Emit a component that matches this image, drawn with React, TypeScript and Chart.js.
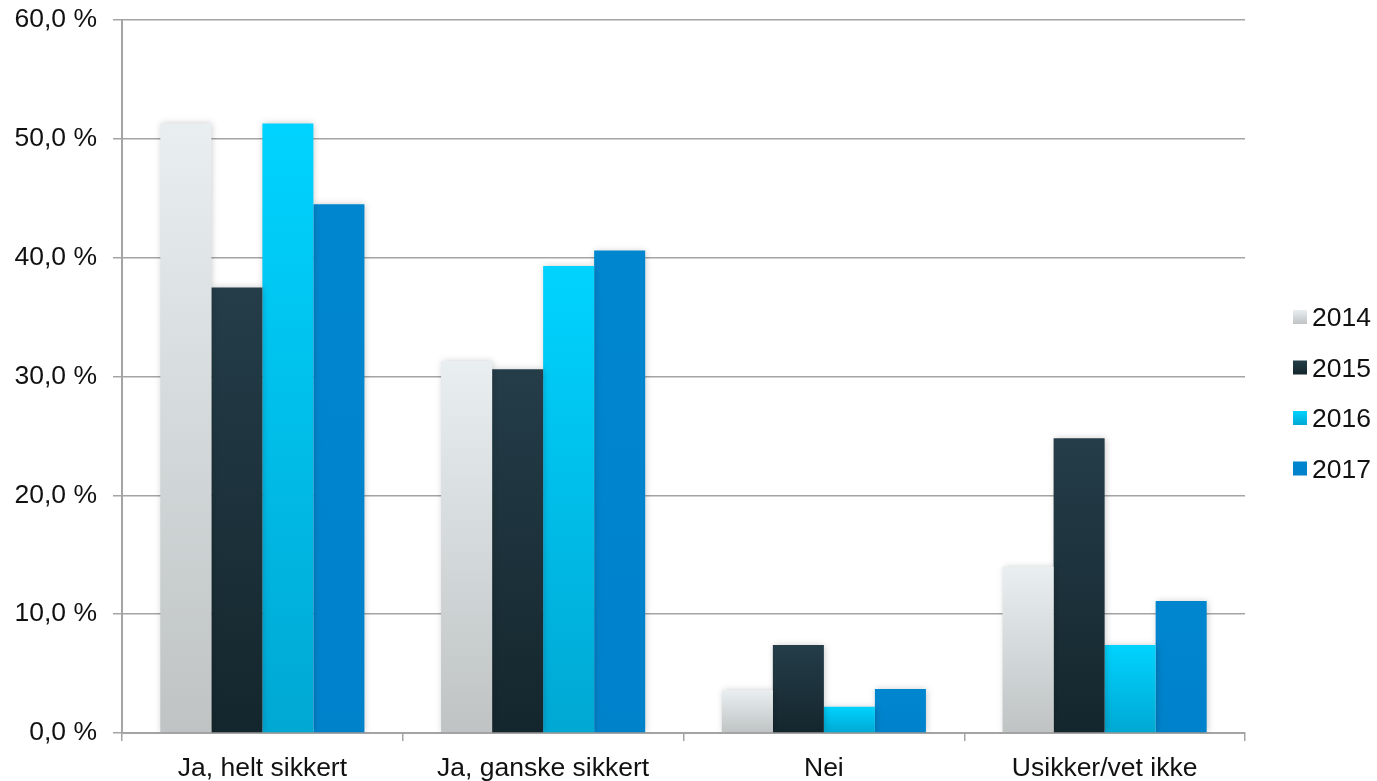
import React, { useEffect, useRef } from "react";
import { Chart, registerables } from "chart.js";

Chart.register(...registerables);

const categories = ["Ja, helt sikkert", "Ja, ganske sikkert", "Nei", "Usikker/vet ikke"];
const seriesLabels = ["2014", "2015", "2016", "2017"];
const values2014 = [51.3, 31.3, 3.6, 14.0];
const values2015 = [37.5, 30.6, 7.4, 24.8];
const values2016 = [51.3, 39.3, 2.2, 7.4];
const values2017 = [44.5, 40.6, 3.7, 11.1];
const yTicks = [0, 10, 20, 30, 40, 50, 60];

const gradients: [string, string][] = [
  ["#e9eef0", "#bfc3c4"],
  ["#243d49", "#14262d"],
  ["#00d3ff", "#00a8d3"],
  ["#0086cf", "#0082cb"],
];

const FONT = "'Liberation Sans', Arial, Helvetica, sans-serif";
const GRID = "#a4a4a4";
const FS = 26.5;

export default function App() {
  const ref = useRef<HTMLCanvasElement | null>(null);

  useEffect(() => {
    if (!ref.current) return;
    const all = [values2014, values2015, values2016, values2017];

    const shadowPlugin = {
      id: "barShadow",
      beforeDatasetsDraw(chart: any) {
        const c = chart.ctx;
        c.save();
        c.shadowColor = "rgba(0,0,0,0.22)";
        c.shadowBlur = 7;
        c.shadowOffsetX = 1;
        c.shadowOffsetY = 0;
      },
      afterDatasetsDraw(chart: any) {
        chart.ctx.restore();
      },
    };

    const legendPlugin = {
      id: "customLegend",
      afterDraw(chart: any) {
        const c = chart.ctx;
        c.save();
        const boxX = 1293;
        const textX = 1312;
        const centers = [317, 367.5, 418, 468.5];
        seriesLabels.forEach((lab, i) => {
          const cy = centers[i];
          const g = c.createLinearGradient(0, cy - 7, 0, cy + 7);
          g.addColorStop(0, gradients[i][0]);
          g.addColorStop(1, gradients[i][1]);
          c.fillStyle = g;
          c.fillRect(boxX, cy - 7, 14, 14);
          c.fillStyle = "#111";
          c.font = `${FS}px ${FONT}`;
          c.textBaseline = "middle";
          c.textAlign = "left";
          c.fillText(lab, textX, cy + 2);
        });
        c.restore();
      },
    };

    const chart = new Chart(ref.current, {
      type: "bar",
      data: {
        labels: categories,
        datasets: all.map((vals, i) => ({
          label: seriesLabels[i],
          data: vals,
          categoryPercentage: 0.727,
          barPercentage: 1,
          borderWidth: 0,
          backgroundColor: (ctx: any) => {
            if (ctx.type !== "data") return gradients[i][0];
            const y = ctx.chart.scales.y;
            if (!y) return gradients[i][0];
            const top = y.getPixelForValue(ctx.raw);
            const base = y.getPixelForValue(0);
            if (!isFinite(top) || !isFinite(base) || top === base) return gradients[i][0];
            const g = ctx.chart.ctx.createLinearGradient(0, top, 0, base);
            g.addColorStop(0, gradients[i][0]);
            g.addColorStop(1, gradients[i][1]);
            return g;
          },
        })),
      },
      options: {
        animation: false,
        responsive: true,
        maintainAspectRatio: false,
        layout: { padding: { top: 20, right: 132, bottom: 0, left: 0 } },
        plugins: {
          legend: { display: false },
          tooltip: { enabled: false },
        },
        scales: {
          x: {
            offset: true,
            grid: {
              display: true,
              drawOnChartArea: false,
              drawTicks: true,
              tickLength: 8,
              color: GRID,
              lineWidth: 1.5,
              offset: true,
            },
            border: { display: true, color: GRID, width: 2 },
            ticks: {
              color: "#111",
              font: { family: FONT, size: FS },
              padding: 12,
              maxRotation: 0,
            },
            afterFit: (s: any) => {
              s.height = 48;
              s.paddingLeft = 0;
              s.paddingRight = 0;
            },
          },
          y: {
            min: 0,
            max: 60,
            afterBuildTicks: (s: any) => {
              s.ticks = yTicks.map((v) => ({ value: v }));
            },
            grid: {
              color: GRID,
              lineWidth: 1.5,
              tickLength: 9,
              drawTicks: true,
            },
            border: { display: true, color: GRID, width: 2 },
            ticks: {
              color: "#111",
              font: { family: FONT, size: FS },
              padding: 16,
              callback: (v: any) => Number(v).toFixed(1).replace(".", ",") + " %",
            },
            afterFit: (s: any) => {
              s.width = 122;
              s.paddingTop = 0;
              s.paddingBottom = 0;
            },
          },
        },
      },
      plugins: [shadowPlugin, legendPlugin],
    });
    return () => chart.destroy();
  }, []);

  return (
    <div style={{ position: "fixed", left: 0, top: 0, width: 1377, height: 781, background: "#fff" }}>
      <canvas ref={ref} />
    </div>
  );
}
